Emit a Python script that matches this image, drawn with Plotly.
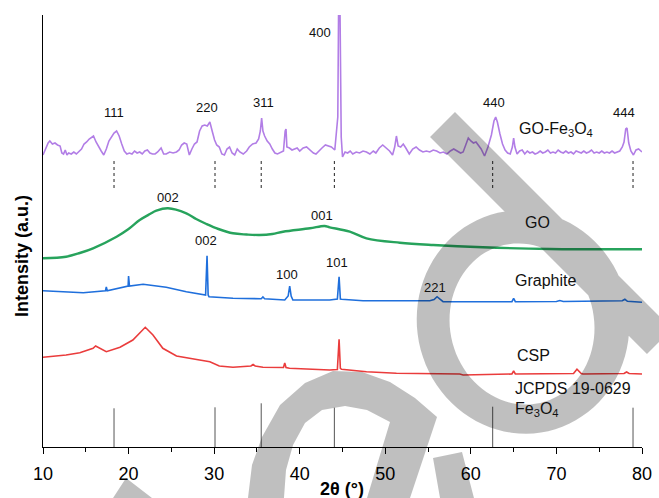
import numpy as np
import plotly.graph_objects as go

# ---------------- data (2theta in degrees, intensity in arbitrary units, offset stacked) -------------
gofe_x = [10.0, 10.3, 10.6, 10.8, 11.1, 11.4, 11.7, 12.0, 12.2, 12.4, 12.6, 12.8, 13.0, 13.3, 13.6,
          13.9, 14.2, 14.5, 14.8, 15.1, 15.4, 15.7, 15.9, 16.2, 16.5, 16.8, 17.1, 17.4, 17.7, 18.0,
          18.3, 18.6, 18.9, 19.2, 19.5, 19.8, 20.1, 20.4, 20.7, 21.0, 21.3, 21.6, 21.9, 22.2, 22.5,
          22.8, 23.1, 23.4, 23.8, 24.1, 24.4, 24.8, 25.2, 25.6, 25.9, 26.2, 26.5, 26.8, 27.1, 27.4,
          27.7, 28.0, 28.3, 28.6, 28.9, 29.2, 29.5, 29.8, 30.05, 30.3, 30.6, 30.9, 31.2, 31.5, 31.8,
          32.1, 32.4, 32.7, 33.0, 33.4, 33.8, 34.1, 34.5, 34.9, 35.2, 35.4, 35.55, 35.7, 35.9, 36.2,
          36.5, 36.8, 37.1, 37.4, 37.8, 38.1, 38.3, 38.4, 38.5, 38.8, 39.1, 39.4, 39.7, 40.0, 40.4,
          40.8, 41.2, 41.6, 41.9, 42.2, 42.6, 43.0, 43.3, 43.7, 44.1, 44.45, 44.55, 44.7, 44.85, 45.0,
          45.3, 45.6, 45.9, 46.2, 46.6, 47.0, 47.4, 47.8, 48.2, 48.6, 48.9, 49.3, 49.7, 50.1, 50.5,
          50.85, 51.1, 51.3, 51.5, 51.8, 52.1, 52.4, 52.8, 53.2, 53.6, 54.0, 54.4, 54.8, 55.2, 55.6,
          56.0, 56.4, 56.8, 57.2, 57.6, 58.0, 58.4, 58.8, 59.1, 59.4, 59.7, 60.0, 60.3, 60.6, 60.9,
          61.2, 61.6, 62.0, 62.4, 62.7, 62.9, 63.1, 63.4, 63.7, 64.0, 64.3, 64.6, 64.85, 65.0, 65.15,
          65.4, 65.7, 66.0, 66.3, 66.6, 66.9, 67.2, 67.5, 67.8, 68.1, 68.4, 68.7, 69.0, 69.3, 69.6,
          69.9, 70.2, 70.5, 70.8, 71.1, 71.4, 71.7, 72.0, 72.3, 72.6, 72.9, 73.2, 73.5, 73.8, 74.1,
          74.4, 74.7, 75.0, 75.3, 75.6, 75.9, 76.2, 76.5, 76.8, 77.1, 77.4, 77.7, 77.9, 78.1, 78.25,
          78.45, 78.7, 79.0, 79.3, 79.6, 79.9, 80.0]
gofe_y = [292, 298, 304, 306, 303, 304, 302, 301, 294, 293, 297, 292, 294, 293, 295,
          293, 296, 298, 303, 305, 308, 310, 311, 305, 300, 296, 292, 298, 306, 310,
          314, 316, 311, 303, 296, 293, 294, 293, 296, 294, 295, 293, 296, 297, 294,
          293, 293, 295, 299, 293, 293, 295, 294, 295, 297, 302, 304, 303, 292, 298,
          303, 305, 316, 321, 322, 321, 325, 315, 307, 302, 300, 293, 292, 298, 300,
          294, 292, 298, 295, 293, 296, 300, 303, 304, 308, 316, 329, 316, 311, 306,
          303, 298, 294, 293, 295, 296, 316, 318, 300, 299, 297, 298, 299, 296, 299,
          300, 297, 294, 293, 296, 299, 302, 301, 300, 297, 330, 445, 445, 310, 290,
          295, 294, 296, 293, 295, 294, 296, 295, 293, 296, 294, 299, 302, 299, 296,
          292, 300, 311, 301, 300, 303, 299, 293, 298, 300, 297, 295, 296, 295, 297,
          296, 294, 295, 293, 296, 298, 296, 294, 295, 303, 309, 306, 304, 305, 302,
          298, 291, 300, 312, 326, 330, 325, 313, 303, 297, 294, 293, 300, 309, 300,
          293, 296, 297, 293, 296, 294, 295, 293, 294, 296, 294, 295, 297, 294, 295,
          294, 297, 295, 294, 296, 294, 295, 293, 296, 295, 294, 296, 294, 295, 297,
          294, 295, 294, 296, 294, 295, 294, 296, 294, 295, 296, 300, 305, 318, 319,
          304, 296, 292, 297, 298, 295, 295]

go_x = [10, 12.7, 14.3, 15.85, 18.6, 20.0, 21.3, 22.5, 23.25, 24.6, 26.75, 27.9, 29.1, 30.5, 32.2,
        33.8, 35.3, 36.8, 38.05, 41.2, 42.9, 43.5, 45.85, 47.8, 51.7, 55.6, 61.4, 69.2, 80]
go_y = [188.7, 190.3, 194, 198.7, 210.3, 218, 227, 233, 236.3, 238.7, 233.7, 228, 223, 218, 213.7,
        212.5, 212, 213, 215.3, 218.7, 221, 219.7, 215.3, 208.7, 204.3, 202, 199.7, 198, 197.7]

gr_x = [10, 14.7, 17.3, 17.4, 17.5, 19.8, 19.95, 20.0, 20.1, 21.7, 24.4, 26.75, 28.8, 29.0, 29.17,
        29.3, 29.4, 32.2, 35.5, 35.7, 35.9, 38.25, 38.65, 38.83, 39.0, 39.2, 43.5, 44.4, 44.6, 44.75,
        44.9, 47.4, 55.2, 55.7, 56.05, 56.4, 56.75, 64.8, 65.0, 65.2, 70.0, 70.4, 70.8, 77.7, 78.0,
        78.3, 80]
gr_y = [156.3, 154.3, 156.3, 160, 156.3, 160.5, 161, 171, 161, 162.7, 159.7, 155.3, 152, 152, 191.3,
        152, 150.3, 148.7, 148.3, 150, 148.3, 147, 151, 161, 151, 147, 147, 148, 170.3, 148,
        147.7, 146.3, 146.3, 147.5, 150.3, 147.5, 145.3, 145.3, 148.7, 145.3, 145.5, 146.5, 145.5, 146.2, 147.7,
        145.7, 144.7]

csp_x = [10, 11.55, 12.7, 14.3, 15.85, 16.15, 17.4, 19.0, 20.5, 21.95, 22.85, 24.0, 25.6, 28.3, 29.5,
         30.6, 32.2, 34.3, 34.55, 34.8, 35.7, 38.1, 38.25, 38.4, 38.8, 43.5, 44.4, 44.6, 44.75, 44.9,
         47.8, 51.3, 58.7, 59.1, 64.8, 65.0, 65.2, 72.0, 72.4, 72.9, 73.1, 77.9, 78.2, 78.5, 80]
csp_y = [89.7, 91, 92, 94.3, 98.7, 101, 95.3, 99.7, 107, 119.7, 112, 98.7, 91, 87, 85.3,
         81, 79.7, 81, 82.5, 81, 79.7, 79.5, 84, 79.5, 78.7, 77, 77.5, 107.7, 78.7, 77.7,
         75.3, 73.7, 73, 72, 73, 76, 73, 73.5, 77.7, 73.5, 73, 73.5, 75, 73.5, 73]

# JCPDS 19-0629 Fe3O4 reference lines
ref_pos = [18.3, 30.1, 35.5, 44.05, 62.55, 78.95]
ref_int = [38.7, 39.7, 43.7, 39.3, 40.3, 39.3]
ref_hkl = ["111", "220", "311", "400", "440", "444"]
hkl_x = [18.32, 29.13, 35.79, 42.34, 62.67, 77.86]
hkl_y = [334.5, 340, 345, 415, 345, 335]
guide_top, guide_bot = 289, 259

peak_lbl = ["002", "001", "002", "100", "101", "221"]
peak_x = [24.57, 42.57, 29.01, 38.54, 44.32, 55.78]
peak_y = [250, 232, 207, 172.5, 185, 160]

names = ["GO-Fe<sub>3</sub>O<sub>4</sub>", "GO", "Graphite", "CSP",
         "JCPDS 19-0629", "Fe<sub>3</sub>O<sub>4</sub>"]
name_x = [65.36, 66.07, 64.9, 65.1, 64.9, 64.9]
name_y = [318, 225, 167, 92, 59, 38]

FONT = "Liberation Sans, Arial, sans-serif"

fig = go.Figure()
fig.add_trace(go.Scatter(x=gofe_x, y=gofe_y, mode="lines", line=dict(color="#b27ee6", width=1.6)))
fig.add_trace(go.Scatter(x=go_x, y=go_y, mode="lines", line=dict(color="#27a35c", width=2.4, shape="spline")))
fig.add_trace(go.Scatter(x=gr_x, y=gr_y, mode="lines", line=dict(color="#1f6fdc", width=1.6)))
fig.add_trace(go.Scatter(x=csp_x, y=csp_y, mode="lines", line=dict(color="#ea3c3c", width=1.6)))

# stick pattern
sx, sy = [], []
for p, h in zip(ref_pos, ref_int):
    sx += [p, p, None]
    sy += [0, h, None]
fig.add_trace(go.Scatter(x=sx, y=sy, mode="lines", line=dict(color="#555555", width=1)))
# dotted guide lines under GO-Fe3O4
gx, gy = [], []
for p in ref_pos:
    gx += [p, p, None]
    gy += [guide_bot, guide_top, None]
fig.add_trace(go.Scatter(x=gx, y=gy, mode="lines", line=dict(color="#222222", width=1, dash="dot")))

ann = []
for t, x, y in zip(ref_hkl, hkl_x, hkl_y):
    ann.append(dict(x=x, y=y, text=t, showarrow=False, font=dict(size=13, color="#111")))
for t, x, y in zip(peak_lbl, peak_x, peak_y):
    ann.append(dict(x=x, y=y, text=t, showarrow=False, font=dict(size=13, color="#111")))
for t, x, y in zip(names, name_x, name_y):
    ann.append(dict(x=x, y=y, text=t, showarrow=False, xanchor="left", font=dict(size=16, color="#111")))

# axis titles
L, W, B, H = 43.0, 599.0, 447.0, 432.0
def P(px, py):
    return ((px - L) / W, (B - py) / H)

ann.append(dict(xref="paper", yref="paper", x=P(342, 0)[0], y=P(0, 489)[1], text="<b>2θ (°)</b>",
                showarrow=False, font=dict(size=18, color="#000"), yanchor="middle"))
ann.append(dict(xref="paper", yref="paper", x=P(22, 0)[0], y=P(0, 256)[1], text="<b>Intensity (a.u.)</b>",
                textangle=-90, showarrow=False, font=dict(size=18, color="#000"), xanchor="center", yanchor="middle"))

# ---------------- watermark (grey translucent shape) ----------------
def area(pts):
    a = 0
    for (x1, y1), (x2, y2) in zip(pts, pts[1:] + pts[:1]):
        a += x1 * y2 - x2 * y1
    return a / 2

def ellipse(cx, cy, a, b, ang, n=90):
    t = np.linspace(0, 2 * np.pi, n, endpoint=False)
    c, s = np.cos(np.radians(ang)), np.sin(np.radians(ang))
    return [(cx + a * np.cos(tt) * c - b * np.sin(tt) * s, cy + a * np.cos(tt) * s + b * np.sin(tt) * c) for tt in t]

outers = [
    [(430, 137), (455, 112), (672, 329), (647, 354)],
    ellipse(523, 322, 112, 106, 77),
    [(248, 498), (252, 465), (262, 437), (280, 405), (305, 383), (333, 371), (362, 372), (390, 382),
     (415, 398), (437, 417), (390, 422), (367, 410), (345, 406), (322, 410), (305, 423), (293, 445),
     (286, 470), (284, 498)],
    [(390, 422), (437, 417), (410, 498), (367, 498)],
    [(433, 458), (462, 452), (474, 498), (440, 498)],
    [(113, 498), (126, 478), (152, 498)],
]
holes = [ellipse(522, 324, 81, 72, 77)]

def sub(pts, positive):
    if (area(pts) > 0) != positive:
        pts = pts[::-1]
    q = [P(x, y) for x, y in pts]
    return "M" + " L".join(f"{x:.4f},{y:.4f}" for x, y in q) + " Z"

path = " ".join([sub(p, True) for p in outers] + [sub(h, False) for h in holes])

fig.update_layout(
    width=659, height=498,
    margin=dict(l=43, r=17, t=15, b=51, autoexpand=False),
    paper_bgcolor="white", plot_bgcolor="white",
    showlegend=False,
    font=dict(family=FONT, color="#000"),
    annotations=ann,
    shapes=[dict(type="path", path=path, xref="paper", yref="paper", fillcolor="rgba(0,0,0,0.25)",
                 line=dict(width=0), layer="above", fillrule="nonzero")],
    xaxis=dict(range=[10, 80], dtick=10, tick0=10, showgrid=False, zeroline=False, automargin=False,
               showline=True, linecolor="#000", linewidth=1.4, mirror=False,
               ticks="outside", ticklen=6, tickwidth=1.3, tickcolor="#000",
               tickfont=dict(size=18, family=FONT, color="#000"), ticklabelstandoff=4,
               minor=dict(dtick=5, tick0=5, ticks="outside", ticklen=3.5, tickwidth=1.2, tickcolor="#000")),
    yaxis=dict(range=[0, 432], showgrid=False, zeroline=False, showticklabels=False, automargin=False,
               showline=True, linecolor="#000", linewidth=1.4, ticks=""),
)

fig.write_html("out.html", config={"displayModeBar": False},
               post_script="document.body.style.margin='0px';document.body.style.overflow='hidden';")
